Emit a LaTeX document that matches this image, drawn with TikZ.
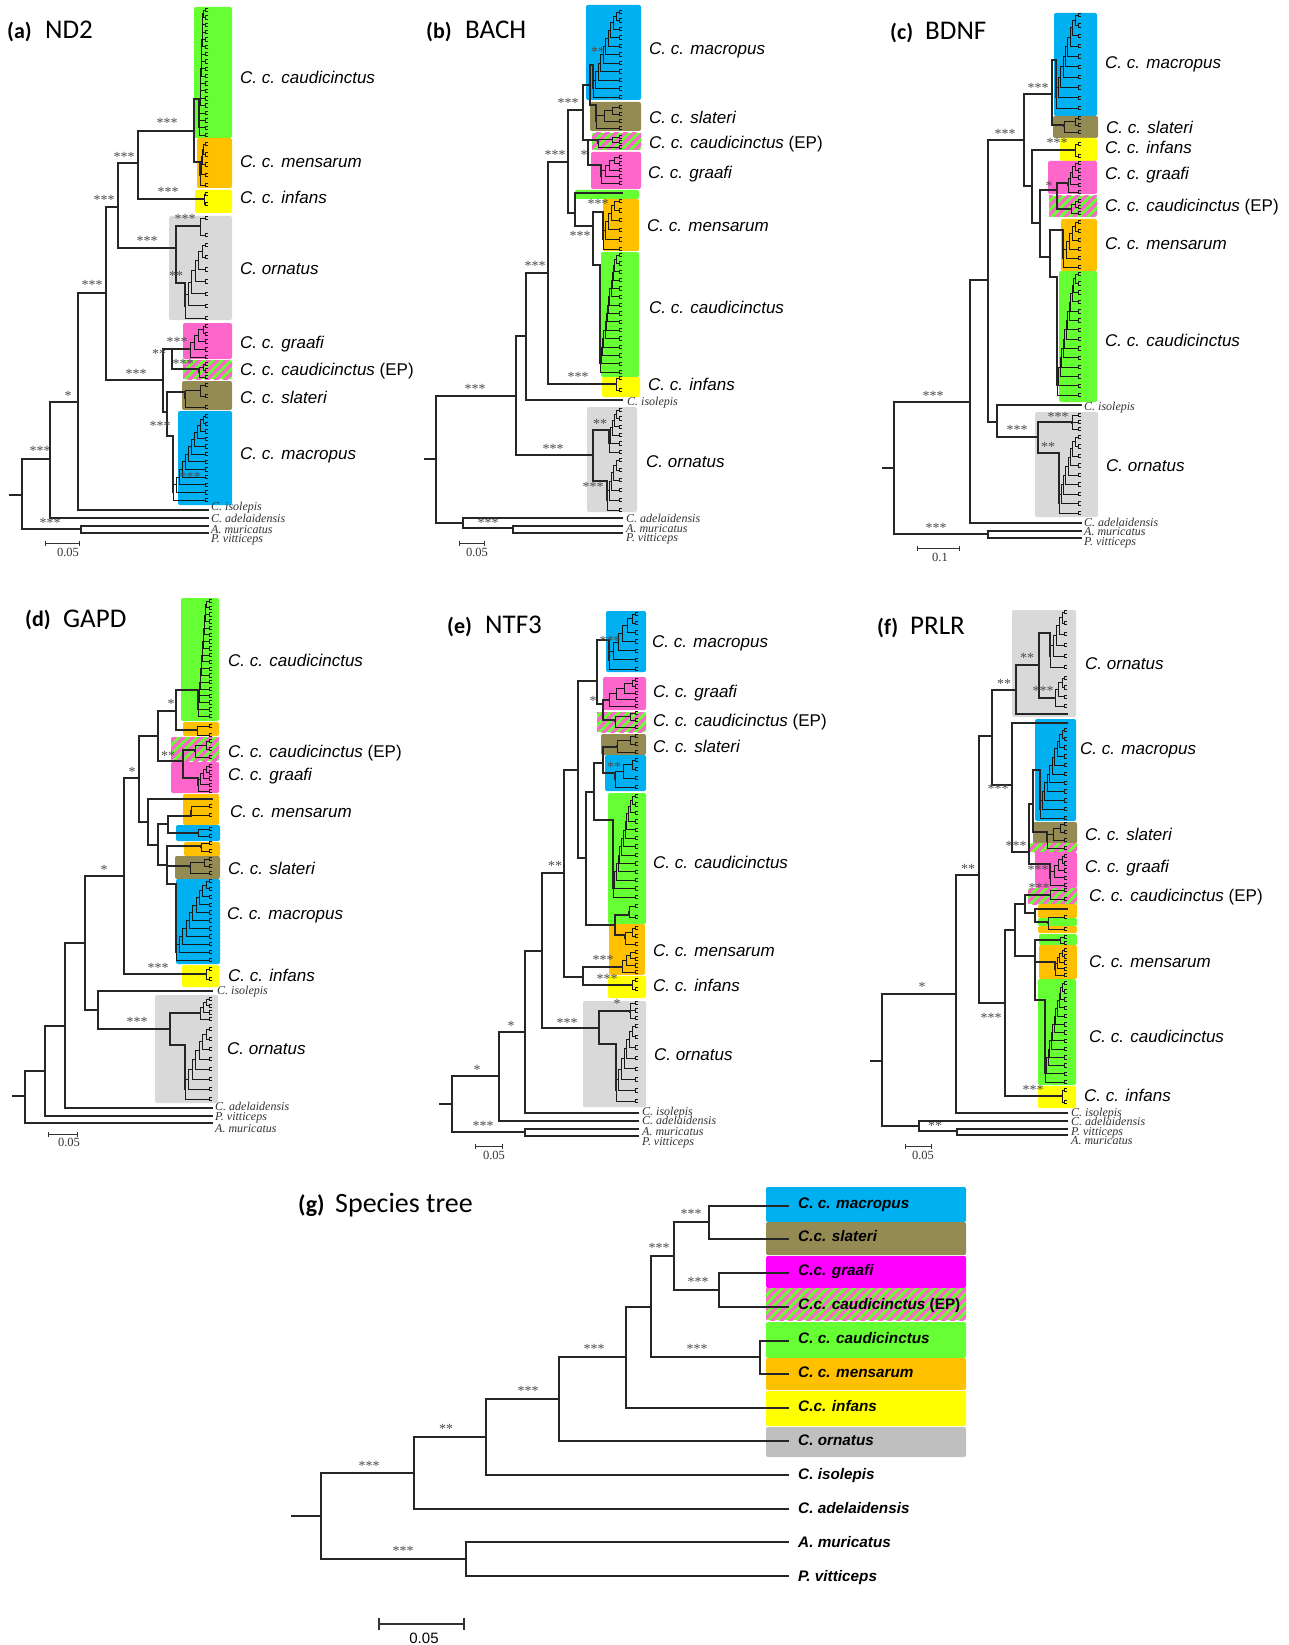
\documentclass[tikz,border=0pt]{standalone}
\usepackage{fontspec}
\setmainfont{Liberation Sans}
\newfontfamily\tnr{Liberation Serif}
\newfontfamily\carl{Carlito}
\definecolor{cG}{HTML}{66FF33}
\definecolor{cO}{HTML}{FFC000}
\definecolor{cY}{HTML}{FFFF00}
\definecolor{cGr}{HTML}{D9D9D9}
\definecolor{cP}{HTML}{FF66CC}
\definecolor{cBr}{HTML}{948A54}
\definecolor{cBl}{HTML}{00B0F0}
\definecolor{cM}{HTML}{FF00FF}
\definecolor{cGs}{HTML}{BFBFBF}
\tikzset{
 br/.style={line width=1.1pt, draw=black!85, line cap=rect},
 lb/.style={line width=0.85pt, draw=black!90, line cap=rect},
 sc/.style={line width=0.9pt, draw=black!80},
 stars/.style={font=\tnr\fontsize{14}{14}\selectfont, text=black!70, inner sep=0pt},
 clab/.style={anchor=base west, font=\fontsize{17}{20}\selectfont\itshape, inner sep=0pt},
 glab/.style={anchor=base west, font=\fontsize{15.3}{18}\selectfont\bfseries\itshape, inner sep=0pt},
 ogl/.style={anchor=base west, font=\tnr\fontsize{12}{13}\selectfont\itshape, text=black!80, inner sep=0pt},
 sclab/.style={anchor=base, font=\tnr\fontsize{12.5}{13}\selectfont, text=black!80, inner sep=0pt},
 tA/.style={anchor=base west, font=\carl\bfseries\fontsize{22}{26}\selectfont, inner sep=0pt},
 tB/.style={anchor=base west, font=\carl\fontsize{27}{30}\selectfont, inner sep=0pt},
}
\newcount\nodeno
\newcommand\nn{\global\advance\nodeno by 1 }
\newcommand\BV[3]{\draw[br] (#1,#2) -- (#1,#3);}
\newcommand\BH[3]{\draw[br] (#1,#3) -- (#2,#3);}
\newcommand\Stars[3]{\nn\node[stars] (s\the\nodeno) at (#1,#2) {#3};}
\newcommand\CLab[3]{\nn\node[clab] (c\the\nodeno) at (#1,{#2+6}) {#3};}
\newcommand\GLab[3]{\nn\node[glab] (g\the\nodeno) at (#1,{#2+5.5}) {#3};}
\newcommand\OLab[3]{\nn\node[ogl] (o\the\nodeno) at (#1,{#2+4}) {#3};}
\newcommand\Bx[5]{\fill[#1, rounded corners=2pt] (#2,#3) rectangle (#4,#5);}
\newcommand\Hx[4]{%
 \fill[cG, rounded corners=2pt] (#1,#2) rectangle (#3,#4);
 \begin{scope}
 \clip (#1,#2) rectangle (#3,#4);
 \foreach \k in {0,9,...,270} \draw[cP, line width=3.2pt] ({#1+\k-40},{#4+2}) -- ++(40,-40);
 \end{scope}}
\def\bh{1.7}
\newcommand\TipB[3]{\draw[lb] (#1,#2) -- ({#3-3},#2); \draw[lb] (#3,{#2-\bh}) -- ({#3-3},{#2-\bh}) -- ({#3-3},{#2+\bh}) -- (#3,{#2+\bh});}
\newcommand\Ladder[8]{%
  \pgfmathtruncatemacro\Ln{#8}%
  \pgfmathtruncatemacro\Lnm{#8-1}%
  \pgfmathsetmacro\Ldy{((#7)-(#6))/((#8)-1)}%
  \pgfmathsetmacro\Ldx{((#4)-(#3))/max((#8)-2,1)}%
  \foreach \j in {\Lnm,...,1}{%
    \pgfmathsetmacro\Lxj{(#3)+(\j-1)*\Ldx}%
    \pgfmathsetmacro\Lyb{(#6)+(\Ln-\j)*\Ldy}%
    \ifnum\j=\Lnm\relax
      \pgfmathsetmacro\Lyt{#6}%
      \TipB{\Lxj}{\Lyt}{#5}%
    \else
      \pgfmathsetmacro\Lyt{\Lc}%
      \draw[lb] (\Lxj,\Lyt) -- (\Lxp,\Lyt);%
    \fi
    \draw[lb] (\Lxj,\Lyt) -- (\Lxj,\Lyb);%
    \TipB{\Lxj}{\Lyb}{#5}%
    \pgfmathsetmacro\Lcc{(\Lyt+\Lyb)/2}%
    \xdef\Lc{\Lcc}\xdef\Lxp{\Lxj}%
  }%
  \draw[br] (#1,#2) -- (#3,#2) -- (#3,\Lc);%
}
\newcommand\ScaleBar[6]{%
 \draw[sc] (#1,{#3-2.5}) -- (#1,{#3+2.5}) (#1,#3) -- (#2,#3) (#2,{#3-2.5}) -- (#2,{#3+2.5});
 \nn\node[sclab] (b\the\nodeno) at (#4,#5) {#6};}
\begin{document}
\begin{tikzpicture}[x=1pt,y=-1pt]
\useasboundingbox (0,0) rectangle (1288,1645);
\fill[white] (0,0) rectangle (1288,1645);
%% ================= (a) ND2 =================
\node[tA] (ta) at (7,39) {(a)};
\node[tB] (tna) at (45,39) {ND2};
\Bx{cG}{194}{7}{232}{138}
\Bx{cO}{197}{138}{232}{188}
\Bx{cY}{195}{190}{232}{213}
\Bx{cGr}{169}{216}{232}{320}
\Bx{cP}{183}{323}{232}{359}
\Hx{183}{360}{232}{379}
\Bx{cBr}{182}{381}{232}{410}
\Bx{cBl}{178}{411}{232}{505}
\BH{10}{22}{495}\BV{22}{459}{529}
\BH{22}{50}{459}\Stars{40}{451}{***}
\BH{22}{81}{529}\Stars{50}{523}{***}
\BV{81}{526}{533}\BH{81}{208}{526}\BH{81}{208}{533}
\BV{50}{402}{518}\BH{50}{208}{518}\BH{50}{78}{402}\Stars{68}{396}{*}
\BV{78}{293}{510}\BH{78}{208}{510}\BH{78}{106}{293}\Stars{92}{285}{***}
\BV{106}{207}{380}\BH{106}{118}{207}\Stars{104}{200}{***}\BH{106}{163}{380}\Stars{136}{374}{***}
\BV{118}{163}{248}\BH{118}{138}{163}\Stars{124}{157}{***}\BH{118}{176}{248}\Stars{147}{241}{***}
\BV{138}{131}{199}\BH{138}{194}{131}\Stars{167}{123}{***}
\Ladder{138}{199}{204}{204}{208}{194}{204}{2}\Stars{168}{192}{***}
\BV{194}{99}{162}
\Ladder{194}{99}{199}{203}{208}{10}{135}{18}
\Ladder{194}{162}{200}{203}{208}{144}{185}{5}
\BV{176}{226}{283}
\Ladder{176}{226}{200}{200}{208}{218}{235}{2}\Stars{185}{219}{***}
\Ladder{176}{283}{185}{202}{208}{245}{318}{7}\Stars{176}{276}{**}
\BV{163}{349}{412}
\BH{163}{172}{349}\Stars{159}{354}{**}
\BV{172}{349}{369}
\Ladder{172}{349}{190}{203}{208}{326}{357}{5}\Stars{177}{342}{***}
\Ladder{172}{369}{199}{203}{208}{364}{377}{3}\Stars{183}{364}{***}
\BH{163}{167}{412}\BV{167}{392}{436}
\Ladder{167}{392}{185}{200}{208}{385}{407}{3}
\Ladder{167}{436}{173}{203}{208}{416}{500}{12}\Stars{160}{426}{***}\Stars{190}{477}{***}
\CLab{240}{78}{C. c. caudicinctus}
\CLab{240}{162}{C. c. mensarum}
\CLab{240}{198}{C. c. infans}
\CLab{240}{268}{C. ornatus}
\CLab{240}{342}{C. c. graafi}
\CLab{240}{369}{C. c. caudicinctus {\upshape(EP)}}
\CLab{240}{397}{C. c. slateri}
\CLab{240}{453}{C. c. macropus}
\OLab{211}{506}{C. isolepis}
\OLab{211}{518}{C. adelaidensis}
\OLab{211}{529}{A. muricatus}
\OLab{211}{538}{P. vitticeps}
\ScaleBar{45}{79}{543}{68}{556}{0.05}
%% ================= (b) BACH =================
\node[tA] (tb) at (426,39) {(b)};
\node[tB] (tnb) at (465,39) {BACH};
\Bx{cBl}{586}{5}{641}{100}
\Bx{cBr}{590}{102}{641}{131}
\Hx{592}{133}{641}{150}
\Bx{cP}{591}{152}{641}{189}
\Bx{cG}{575}{190}{639}{199}
\Bx{cO}{603}{199}{639}{251}
\Bx{cG}{601}{252}{639}{377}
\Bx{cY}{602}{377}{640}{397}
\Bx{cGr}{587}{407}{637}{512}
\BH{425}{436}{459}\BV{436}{396}{523}
\BH{436}{516}{396}\Stars{475}{389}{***}
\BH{436}{463}{523}\BV{463}{518}{528}\BH{463}{622}{518}\BH{463}{513}{528}\Stars{488}{523}{***}
\BV{513}{526}{533}\BH{513}{622}{526}\BH{513}{622}{533}
\BV{516}{336}{455}\BH{516}{526}{336}\BH{516}{593}{455}\Stars{553}{449}{***}
\BV{526}{273}{400}\BH{526}{548}{273}\Stars{535}{266}{***}\BH{526}{622}{400}
\BV{548}{162}{384}\BH{548}{568}{162}\Stars{555}{155}{***}
\Ladder{548}{384}{616}{616}{622}{378}{390}{2}\Stars{578}{377}{***}
\BV{568}{110}{213}\BH{568}{583}{110}\Stars{568}{103}{***}
\BH{568}{575}{213}\BV{575}{193}{226}\BH{575}{622}{193}\BH{575}{593}{226}\Stars{580}{236}{***}
\BV{593}{212}{265}
\Ladder{593}{212}{603}{614}{622}{201}{249}{6}\Stars{598}{204}{***}
\Ladder{593}{265}{600}{616}{622}{255}{372}{15}
\BV{583}{85}{140}\BH{583}{590}{85}\BV{590}{65}{105}
\Ladder{590}{65}{593}{616}{622}{12}{97}{11}\Stars{598}{52}{**}
\Ladder{590}{105}{596}{612}{622}{107}{128}{4}
\BH{583}{588}{140}\BV{588}{140}{165}\Stars{584}{155}{*}
\Ladder{588}{140}{598}{612}{622}{137}{147}{3}
\Ladder{588}{165}{601}{614}{622}{157}{183}{5}
\BV{593}{430}{481}
\Ladder{593}{430}{609}{616}{622}{410}{452}{6}\Stars{600}{424}{**}
\Ladder{593}{481}{607}{616}{622}{460}{510}{6}\Stars{593}{487}{***}
\CLab{649}{49}{C. c. macropus}
\CLab{649}{118}{C. c. slateri}
\CLab{649}{143}{C. c. caudicinctus {\upshape(EP)}}
\CLab{648}{173}{C. c. graafi}
\CLab{647}{226}{C. c. mensarum}
\CLab{649}{307}{C. c. caudicinctus}
\CLab{648}{384}{C. c. infans}
\CLab{646}{461}{C. ornatus}
\OLab{627}{401}{C. isolepis}
\OLab{626}{518}{C. adelaidensis}
\OLab{626}{528}{A. muricatus}
\OLab{626}{537}{P. vitticeps}
\ScaleBar{459}{484}{543}{477}{556}{0.05}
%% ================= (c) BDNF =================
\node[tA] (tc) at (890,40) {(c)};
\node[tB] (tnc) at (925,40) {BDNF};
\Bx{cBl}{1054}{13}{1097}{116}
\Bx{cBr}{1053}{116}{1098}{138}
\Bx{cY}{1060}{138}{1097}{161}
\Bx{cP}{1048}{161}{1097}{194}
\Hx{1049}{196}{1097}{217}
\Bx{cO}{1061}{219}{1097}{271}
\Bx{cG}{1059}{271}{1097}{402}
\Bx{cGr}{1035}{412}{1098}{517}
\BH{883}{894}{468}\BV{894}{402}{534}
\BH{894}{970}{402}\Stars{933}{396}{***}
\BH{894}{988}{534}\Stars{936}{528}{***}\BV{988}{531}{538}\BH{988}{1081}{531}\BH{988}{1081}{538}
\BV{970}{280}{523}\BH{970}{988}{280}\BH{970}{1081}{523}
\BV{988}{140}{422}\BH{988}{1024}{140}\Stars{1005}{134}{***}\BH{988}{997}{422}
\BV{997}{405}{437}\BH{997}{1081}{405}\BH{997}{1038}{437}\Stars{1017}{430}{***}
\BV{1024}{94}{186}\BH{1024}{1052}{94}\Stars{1038}{88}{***}\BH{1024}{1032}{186}
\BV{1052}{60}{125}
\Ladder{1052}{60}{1056}{1075}{1081}{15}{108}{10}
\Ladder{1052}{125}{1064}{1075}{1081}{118}{132}{3}
\BV{1032}{150}{223}
\Ladder{1032}{150}{1075}{1075}{1081}{144}{156}{2}\Stars{1057}{143}{***}
\BH{1032}{1040}{223}\BV{1040}{190}{257}\BH{1040}{1057}{190}\Stars{1049}{186}{*}
\BV{1057}{183}{209}
\Ladder{1057}{183}{1068}{1075}{1081}{163}{192}{5}
\Ladder{1057}{209}{1071}{1075}{1081}{201}{213}{3}
\BH{1040}{1050}{257}\BV{1050}{230}{277}
\Ladder{1050}{230}{1063}{1075}{1081}{222}{267}{6}
\Ladder{1050}{277}{1057}{1075}{1081}{274}{395}{14}
\BV{1038}{422}{453}
\Ladder{1038}{422}{1072}{1072}{1081}{415}{429}{3}\Stars{1058}{417}{***}
\Ladder{1038}{453}{1059}{1075}{1081}{437}{513}{9}\Stars{1048}{447}{**}
\CLab{1105}{63}{C. c. macropus}
\CLab{1106}{128}{C. c. slateri}
\CLab{1105}{148}{C. c. infans}
\CLab{1105}{174}{C. c. graafi}
\CLab{1105}{206}{C. c. caudicinctus {\upshape(EP)}}
\CLab{1105}{244}{C. c. mensarum}
\CLab{1105}{340}{C. c. caudicinctus}
\CLab{1106}{465}{C. ornatus}
\OLab{1084}{406}{C. isolepis}
\OLab{1084}{522}{C. adelaidensis}
\OLab{1084}{531}{A. muricatus}
\OLab{1084}{541}{P. vitticeps}
\ScaleBar{917}{959}{548}{940}{561}{0.1}
%% ================= (d) GAPD =================
\node[tA] (td) at (25,626) {(d)};
\node[tB] (tnd) at (63,627) {GAPD};
\Bx{cG}{181}{598}{219}{721}
\Bx{cO}{183}{722}{219}{736}
\Hx{171}{737}{219}{761}
\Bx{cP}{171}{762}{219}{793}
\Bx{cO}{183}{794}{219}{825}
\Bx{cBl}{176}{825}{220}{841}
\Bx{cO}{184}{842}{220}{856}
\Bx{cBr}{175}{856}{220}{879}
\Bx{cBl}{176}{879}{220}{964}
\Bx{cY}{182}{965}{219}{987}
\Bx{cGr}{155}{995}{218}{1103}
\BH{13}{25}{1096}\BV{25}{1071}{1123}\BH{25}{212}{1123}\BH{25}{45}{1071}
\BV{45}{1026}{1116}\BH{45}{212}{1116}\BH{45}{65}{1026}
\BV{65}{943}{1108}\BH{65}{212}{1108}\BH{65}{85}{943}
\BV{85}{876}{1010}\BH{85}{124}{876}\Stars{104}{870}{*}\BH{85}{98}{1010}
\BV{98}{991}{1029}\BH{98}{212}{991}\BH{98}{170}{1029}\Stars{137}{1022}{***}
\BV{124}{778}{974}\BH{124}{139}{778}\Stars{132}{772}{*}
\Ladder{124}{974}{206}{206}{212}{969}{979}{2}\Stars{158}{968}{***}
\BV{139}{736}{822}\BH{139}{158}{736}\BH{139}{148}{822}
\BV{158}{711}{761}\BH{158}{176}{711}\Stars{171}{704}{*}\BH{158}{183}{761}\Stars{168}{756}{**}
\BV{176}{690}{730}
\Ladder{176}{690}{198}{206}{212}{601}{716}{18}
\Ladder{176}{730}{197}{197}{212}{726}{735}{2}
\BV{183}{750}{778}
\Ladder{183}{750}{195}{206}{212}{741}{757}{3}
\Ladder{183}{778}{198}{206}{212}{766}{791}{5}
\BV{148}{799}{845}\BH{148}{212}{799}\BH{148}{158}{845}
\BV{158}{824}{865}\BH{158}{168}{824}\BH{158}{167}{865}
\BV{168}{816}{833}
\Ladder{168}{816}{191}{191}{212}{806}{815}{2}
\Ladder{168}{833}{198}{198}{212}{829}{836}{2}
\BV{167}{846}{884}
\Ladder{167}{846}{201}{201}{212}{843}{851}{2}
\Ladder{167}{866}{190}{204}{212}{859}{873}{3}
\Ladder{167}{884}{176}{206}{212}{881}{960}{11}
\BV{170}{1013}{1045}
\Ladder{170}{1013}{200}{206}{212}{999}{1019}{4}
\Ladder{170}{1045}{185}{206}{212}{1029}{1099}{8}
\CLab{228}{660}{C. c. caudicinctus}
\CLab{228}{751}{C. c. caudicinctus {\upshape(EP)}}
\CLab{228}{774}{C. c. graafi}
\CLab{230}{811}{C. c. mensarum}
\CLab{228}{868}{C. c. slateri}
\CLab{227}{913}{C. c. macropus}
\CLab{228}{975}{C. c. infans}
\CLab{227}{1048}{C. ornatus}
\OLab{217}{990}{C. isolepis}
\OLab{215}{1106}{C. adelaidensis}
\OLab{215}{1116}{P. vitticeps}
\OLab{215}{1128}{A. muricatus}
\ScaleBar{48}{77}{1134}{69}{1146}{0.05}
%% ================= (e) NTF3 =================
\node[tA] (te) at (447,633) {(e)};
\node[tB] (tne) at (485,633) {NTF3};
\Bx{cBl}{606}{611}{646}{672}
\Bx{cP}{603}{677}{646}{710}
\Hx{597}{712}{646}{732}
\Bx{cBr}{601}{734}{646}{755}
\Bx{cBl}{605}{755}{646}{791}
\Bx{cG}{608}{793}{646}{924}
\Bx{cO}{609}{924}{645}{975}
\Bx{cY}{608}{976}{646}{998}
\Bx{cGr}{583}{1001}{646}{1107}
\BH{440}{452}{1104}\BV{452}{1076}{1132}
\BH{452}{499}{1076}\Stars{477}{1070}{*}
\BH{452}{525}{1132}\Stars{483}{1126}{***}\BV{525}{1129}{1136}\BH{525}{638}{1129}\BH{525}{638}{1136}
\BV{499}{1032}{1121}\BH{499}{638}{1121}\BH{499}{525}{1032}\Stars{511}{1026}{*}
\BV{525}{951}{1113}\BH{525}{638}{1113}\BH{525}{542}{951}
\BV{542}{873}{1028}\BH{542}{564}{873}\Stars{555}{866}{**}\BH{542}{599}{1028}\Stars{567}{1023}{***}
\BV{564}{770}{977}\BH{564}{578}{770}\BH{564}{583}{977}
\BV{583}{967}{985}
\Ladder{583}{967}{622}{630}{638}{952}{972}{4}\Stars{603}{960}{***}
\Ladder{583}{985}{632}{632}{638}{980}{989}{2}\Stars{607}{979}{***}
\BV{578}{681}{858}\BH{578}{597}{681}\BH{578}{586}{858}
\BV{597}{640}{704}
\Ladder{597}{640}{609}{632}{638}{614}{669}{7}\Stars{610}{641}{***}
\BH{597}{603}{704}\Stars{593}{701}{*}\BV{603}{700}{720}
\Ladder{603}{700}{609}{632}{638}{680}{706}{5}
\Ladder{603}{720}{615}{630}{638}{713}{727}{3}
\BV{586}{792}{925}\BH{586}{594}{792}\BH{586}{615}{925}
\BV{594}{763}{820}\BH{594}{603}{763}\BV{603}{747}{773}
\Ladder{603}{747}{617}{630}{638}{736}{752}{3}
\Ladder{603}{773}{615}{632}{638}{760}{787}{4}\Stars{614}{767}{**}
\Ladder{594}{820}{613}{632}{638}{796}{897}{13}
\BV{615}{915}{935}
\Ladder{615}{915}{629}{629}{638}{906}{917}{2}
\Ladder{615}{935}{625}{632}{638}{928}{944}{3}
\BV{599}{1011}{1044}
\Ladder{599}{1011}{630}{630}{638}{1003}{1018}{3}\Stars{617}{1004}{*}
\Ladder{599}{1044}{616}{632}{638}{1026}{1101}{8}
\CLab{652}{641}{C. c. macropus}
\CLab{653}{691}{C. c. graafi}
\CLab{653}{720}{C. c. caudicinctus {\upshape(EP)}}
\CLab{653}{746}{C. c. slateri}
\CLab{653}{862}{C. c. caudicinctus}
\CLab{653}{950}{C. c. mensarum}
\CLab{653}{985}{C. c. infans}
\CLab{654}{1054}{C. ornatus}
\OLab{642}{1111}{C. isolepis}
\OLab{642}{1120}{C. adelaidensis}
\OLab{642}{1131}{A. muricatus}
\OLab{642}{1141}{P. vitticeps}
\ScaleBar{475}{502}{1146}{494}{1159}{0.05}
%% ================= (f) PRLR =================
\node[tA] (tf) at (877,634) {(f)};
\node[tB] (tnf) at (910,634) {PRLR};
\Bx{cGr}{1012}{610}{1076}{717}
\Bx{cBl}{1035}{719}{1076}{821}
\Bx{cBr}{1033}{822}{1077}{844}
\Hx{1030}{843}{1077}{852}
\Bx{cP}{1035}{852}{1077}{888}
\Hx{1028}{888}{1077}{904}
\Bx{cO}{1038}{904}{1077}{918}
\Bx{cG}{1038}{918}{1077}{926}
\Bx{cO}{1038}{926}{1077}{933}
\Bx{cG}{1039}{934}{1077}{945}
\Bx{cO}{1039}{945}{1077}{979}
\Bx{cG}{1038}{979}{1076}{1085}
\Bx{cY}{1038}{1086}{1076}{1108}
\BH{871}{882}{1061}\BV{882}{994}{1126}
\BH{882}{956}{994}\Stars{922}{987}{*}
\BH{882}{919}{1126}\Stars{935}{1126}{**}
\BV{919}{1121}{1131}\BH{919}{1067}{1121}\BH{919}{957}{1131}
\BV{957}{1129}{1135}\BH{957}{1067}{1129}\BH{957}{1067}{1135}
\BV{956}{875}{1113}\BH{956}{1067}{1113}\BH{956}{979}{875}\Stars{968}{869}{**}
\BV{979}{736}{1003}\BH{979}{992}{736}\BH{979}{1005}{1003}\Stars{991}{1018}{***}
\BV{1005}{930}{1096}
\Ladder{1005}{1096}{1062}{1062}{1067}{1090}{1102}{2}\Stars{1033}{1090}{***}
\BH{1005}{1015}{930}\BV{1015}{904}{956}
\BH{1015}{1025}{904}\BV{1025}{895}{913}
\Ladder{1025}{895}{1050}{1050}{1067}{890}{899}{2}\Stars{1039}{888}{***}
\BH{1025}{1035}{913}\BV{1035}{909}{922}\BH{1035}{1067}{909}
\Ladder{1035}{922}{1048}{1048}{1067}{917}{929}{2}
\BH{1015}{1035}{956}\BV{1035}{940}{1000}
\Ladder{1035}{940}{1060}{1060}{1067}{937}{943}{2}
\Ladder{1035}{962}{1055}{1062}{1067}{950}{975}{5}
\Ladder{1035}{1000}{1045}{1062}{1067}{983}{1082}{13}
\BV{992}{690}{785}\BH{992}{1016}{690}\Stars{1004}{684}{**}\BH{992}{1012}{785}\Stars{998}{789}{***}
\BV{1016}{665}{714}\BH{1016}{1067}{714}\BH{1016}{1039}{665}\Stars{1027}{658}{**}
\BV{1039}{633}{698}
\Ladder{1039}{633}{1050}{1062}{1067}{612}{667}{6}
\Ladder{1039}{698}{1055}{1062}{1067}{678}{706}{4}\Stars{1043}{691}{***}
\BV{1012}{723}{852}\BH{1012}{1067}{723}\BH{1012}{1029}{852}\Stars{1016}{846}{***}
\BV{1029}{804}{864}\BH{1029}{1033}{804}
\Ladder{1029}{864}{1050}{1062}{1067}{856}{885}{5}\Stars{1038}{870}{***}
\BV{1033}{770}{832}
\Ladder{1033}{770}{1040}{1062}{1067}{730}{818}{11}
\Ladder{1033}{832}{1047}{1060}{1067}{824}{848}{4}
\CLab{1085}{663}{C. ornatus}
\CLab{1080}{748}{C. c. macropus}
\CLab{1085}{834}{C. c. slateri}
\CLab{1085}{866}{C. c. graafi}
\CLab{1089}{895}{C. c. caudicinctus {\upshape(EP)}}
\CLab{1089}{961}{C. c. mensarum}
\CLab{1089}{1036}{C. c. caudicinctus}
\CLab{1084}{1095}{C. c. infans}
\OLab{1071}{1112}{C. isolepis}
\OLab{1071}{1121}{C. adelaidensis}
\OLab{1071}{1131}{P. vitticeps}
\OLab{1071}{1140}{A. muricatus}
\ScaleBar{905}{931}{1146}{923}{1159}{0.05}
%% ================= (g) Species tree =================
\node[tA, font=\carl\bfseries\fontsize{24}{28}\selectfont] (tg) at (298,1212) {(g)};
\node[tB, font=\carl\fontsize{28}{30}\selectfont] (tng) at (335,1212) {Species tree};
\Bx{cBl}{766}{1187}{966}{1222}
\Bx{cBr}{766}{1222}{966}{1255}
\Bx{cM}{766}{1256}{966}{1288}
\Hx{766}{1288}{966}{1320}
\Bx{cG}{766}{1322}{966}{1358}
\Bx{cO}{766}{1358}{966}{1390}
\Bx{cY}{766}{1391}{966}{1426}
\Bx{cGs}{766}{1427}{966}{1457}
\BH{292}{321}{1516}\BV{321}{1473}{1559}
\BH{321}{414}{1473}\Stars{369}{1466}{***}
\BH{321}{466}{1559}\Stars{403}{1551}{***}
\BV{466}{1542}{1576}\BH{466}{788}{1542}\BH{466}{788}{1576}
\BV{414}{1437}{1509}\BH{414}{788}{1509}\BH{414}{486}{1437}\Stars{446}{1429}{**}
\BV{486}{1399}{1475}\BH{486}{788}{1475}\BH{486}{559}{1399}\Stars{528}{1391}{***}
\BV{559}{1357}{1441}\BH{559}{788}{1441}\BH{559}{626}{1357}\Stars{594}{1349}{***}
\BV{626}{1307}{1408}\BH{626}{788}{1408}\BH{626}{651}{1307}
\BV{651}{1256}{1357}\BH{651}{760}{1357}\Stars{697}{1349}{***}\BH{651}{674}{1256}\Stars{659}{1248}{***}
\BV{760}{1341}{1374}\BH{760}{788}{1341}\BH{760}{788}{1374}
\BV{674}{1222}{1290}\BH{674}{709}{1222}\Stars{691}{1214}{***}\BH{674}{719}{1290}\Stars{698}{1282}{***}
\BV{709}{1206}{1239}\BH{709}{788}{1206}\BH{709}{788}{1239}
\BV{719}{1273}{1307}\BH{719}{788}{1273}\BH{719}{788}{1307}
\GLab{798}{1203}{C. c. macropus}
\GLab{798}{1236}{C.c. slateri}
\GLab{798}{1270}{C.c. graafi}
\GLab{798}{1304}{C.c. caudicinctus {\upshape(EP)}}
\GLab{798}{1338}{C. c. caudicinctus}
\GLab{798}{1372}{C. c. mensarum}
\GLab{798}{1406}{C.c. infans}
\GLab{798}{1440}{C. ornatus}
\GLab{798}{1474}{C. isolepis}
\GLab{798}{1508}{C. adelaidensis}
\GLab{798}{1542}{A. muricatus}
\GLab{798}{1576}{P. vitticeps}
\draw[sc, line width=1.1pt] (379,1618) -- (379,1630) (379,1624) -- (464,1624) (464,1618) -- (464,1630);
\node[anchor=base, font=\fontsize{15}{16}\selectfont, inner sep=0pt] (sg) at (424,1643) {0.05};
\end{tikzpicture}
\end{document}
